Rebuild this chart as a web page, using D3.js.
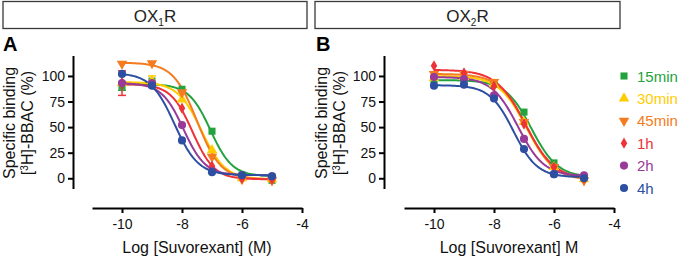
<!DOCTYPE html>
<html><head><meta charset="utf-8">
<script src="https://cdn.jsdelivr.net/npm/d3@7"></script>
<style>body{margin:0;background:#fff}svg{display:block;font-family:Arial,"Liberation Sans",sans-serif}</style>
</head><body><svg id="c" width="680" height="258"></svg>
<script>
const logConc = [-10, -9, -8, -7, -6, -5];
const seriesNames = ["15min", "30min", "45min", "1h", "2h", "4h"];
const seriesColors = ["#23a33d", "#ffcc00", "#f47b20", "#ee3338", "#983a98", "#2d4fa1"];
const seriesShapes = ["square", "triangle", "triangleDown", "diamond", "circle", "circle"];

// Panel A (OX1R) measured points
const ox1_15min = [90, 95, 87, 46, 3, -2];
const ox1_30min = [93, 95, 77, 27.5, 0, -1];
const ox1_45min = [112, 112.5, 84, 21, -1, -2];
const ox1_1h = [93, 92, 68.5, 12, 0, -1];
const ox1_2h = [93, 93, 52, 7, 3, 2];
const ox1_4h = [102, 90.5, 37, 6, 3, 2];
const ox1_err = [[4,0,0,0,0,0],[0,5,0,0,0,0],[0,0,0,0,0,0],[12,0,0,0,0,0],[0,0,0,0,0,0],[0,0,0,0,0,0]];
// fitted curve parameters [top, bottom, logIC50, hill]
const ox1_fits = [[92,2,-7.05,1.2],[94,-1,-7.35,1.1],[113,-1,-7.5,1.1],[92,-1,-7.65,1.2],[93,3,-7.95,1.2],[103,3,-8.25,1.1]];

// Panel B (OX2R) measured points
const ox2_15min = [96, 96, 92, 64.7, 15, 0];
const ox2_30min = [98, 99, 92, 55, 11, -1];
const ox2_45min = [102, 102, 94, 55, 11, -2];
const ox2_1h = [110, 103, 90, 53, 11, 0];
const ox2_2h = [99, 97, 81, 38.5, 4, 3];
const ox2_4h = [90.5, 91.5, 78, 28.5, 4, 0];
const ox2_fits = [[96,1,-6.75,1.0],[100,-1,-6.92,0.95],[102,-2,-6.9,0.95],[106,-1,-6.95,0.9],[99,2,-7.2,1.0],[91,1,-7.35,1.1]];

const xTicks = [-10, -8, -6, -4];
const yTicks = [0, 25, 50, 75, 100];

const svg = d3.select("#c");

const symbolFor = {
  square: d3.symbolSquare, triangle: d3.symbolTriangle, triangleDown: d3.symbolTriangle,
  diamond: d3.symbolDiamond, circle: d3.symbolCircle
};
const sizeFor = {square: 50, triangle: 48, triangleDown: 48, diamond: 36, circle: 52};

function drawPanel(opt) {
  const g = svg.append("g");
  // header box
  g.append("rect").attr("x", opt.box[0]).attr("y", 1.5).attr("width", opt.box[1]-opt.box[0]).attr("height", 27)
    .attr("fill", "#fff").attr("stroke", "#3a3a3a").attr("stroke-width", 1.3);
  const ht = g.append("text").attr("x", (opt.box[0]+opt.box[1])/2).attr("y", 21.5).attr("text-anchor", "middle")
    .attr("font-size", 17).attr("fill", "#222");
  ht.append("tspan").text("OX");
  ht.append("tspan").attr("font-size", 10).attr("dy", 4).text(opt.sub);
  ht.append("tspan").attr("dy", -4).text("R");
  // panel letter
  g.append("text").attr("x", opt.letterX).attr("y", 51).attr("font-size", 20).attr("font-weight", "bold").text(opt.letter);

  const x = d3.scaleLinear().domain([-11, -4]).range(opt.xr);
  const y = d3.scaleLinear().domain([-10, 120]).range([188.5, 55.5]);

  // y axis
  const ya = g.append("g").attr("transform", `translate(${opt.yAxisX},0)`)
    .call(d3.axisLeft(y).tickValues(yTicks).tickSize(5).tickPadding(3).tickSizeOuter(0));
  ya.select(".domain").attr("stroke", "#000").attr("stroke-width", 2);
  ya.selectAll(".tick line").attr("stroke", "#000").attr("stroke-width", 2);
  ya.selectAll(".tick text").attr("font-size", 14).attr("font-family", "Arial, Liberation Sans, sans-serif").attr("fill", "#111");

  // x axis
  const xa = g.append("g").attr("transform", "translate(0,208)")
    .call(d3.axisBottom(x).tickValues(xTicks).tickSize(5).tickPadding(6).tickSizeOuter(0).tickFormat(d => d < 0 ? "-" + Math.abs(d) : d));
  xa.select(".domain").attr("stroke", "#000").attr("stroke-width", 2);
  xa.selectAll(".tick line").attr("stroke", "#000").attr("stroke-width", 2);
  xa.selectAll(".tick text").attr("font-size", 14).attr("font-family", "Arial, Liberation Sans, sans-serif").attr("fill", "#111");

  // axis titles
  g.append("text").attr("x", (opt.xr[0]+opt.xr[1])/2).attr("y", 253).attr("text-anchor", "middle")
    .attr("font-size", 16).attr("fill", "#111").text(opt.xTitle);
  const cy = 123;
  g.append("text").attr("transform", `translate(${opt.yTitleX},${cy}) rotate(-90)`).attr("text-anchor", "middle")
    .attr("font-size", 16).attr("fill", "#111").text("Specific binding");
  const t2 = g.append("text").attr("transform", `translate(${opt.yTitleX+18},${cy}) rotate(-90)`).attr("text-anchor", "middle")
    .attr("font-size", 16).attr("fill", "#111");
  t2.append("tspan").text("[");
  t2.append("tspan").attr("font-size", 10).attr("dy", -5).text("3");
  t2.append("tspan").attr("dy", 5).text("H]-BBAC (%)");

  // curves
  const line = d3.line().x(d => x(d[0])).y(d => y(d[1])).curve(d3.curveLinear);
  const xs = d3.range(-10, -4.999, 0.05);
  opt.series.forEach((vals, i) => {
    const [top, bot, ic, h] = opt.fits[i];
    const pts = xs.map(v => [v, bot + (top - bot) / (1 + Math.pow(10, (v - ic) * h))]);
    g.append("path").attr("d", line(pts)).attr("fill", "none").attr("stroke", seriesColors[i]).attr("stroke-width", 2);
  });
  // error bars and markers
  opt.series.forEach((vals, i) => {
    const sg = g.append("g");
    if (opt.err) {
      vals.forEach((v, j) => {
        const e = opt.err[i][j];
        if (!e) return;
        sg.append("line").attr("x1", x(logConc[j])).attr("x2", x(logConc[j])).attr("y1", y(v - e)).attr("y2", y(v + e))
          .attr("stroke", seriesColors[i]).attr("stroke-width", 1.5);
        [v - e, v + e].forEach(b => sg.append("line").attr("x1", x(logConc[j]) - 4).attr("x2", x(logConc[j]) + 4)
          .attr("y1", y(b)).attr("y2", y(b)).attr("stroke", seriesColors[i]).attr("stroke-width", 1.5));
      });
    }
    const shp = seriesShapes[i];
    const sym = d3.symbol().type(symbolFor[shp]).size(sizeFor[shp]);
    vals.forEach((v, j) => {
      sg.append("path").attr("d", sym())
        .attr("transform", `translate(${x(logConc[j])},${y(v)})` + (shp === "triangleDown" ? " rotate(180)" : ""))
        .attr("fill", seriesColors[i]);
    });
  });
}

drawPanel({box: [3, 307], sub: "1", letter: "A", letterX: 3, xr: [92, 302], yAxisX: 73, yTitleX: 15,
  xTitle: "Log [Suvorexant] (M)", series: [ox1_15min, ox1_30min, ox1_45min, ox1_1h, ox1_2h, ox1_4h], fits: ox1_fits, err: ox1_err});
drawPanel({box: [315, 620], sub: "2", letter: "B", letterX: 316, xr: [404, 614], yAxisX: 384, yTitleX: 327,
  xTitle: "Log [Suvorexant] M", series: [ox2_15min, ox2_30min, ox2_45min, ox2_1h, ox2_2h, ox2_4h], fits: ox2_fits, err: null});

// legend
const lg = svg.append("g");
seriesNames.forEach((n, i) => {
  const yy = 76 + i * 22.4;
  const shp = seriesShapes[i];
  const sym = d3.symbol().type(symbolFor[shp]).size(sizeFor[shp]);
  lg.append("path").attr("d", sym()).attr("transform", `translate(624,${yy})` + (shp === "triangleDown" ? " rotate(180)" : ""))
    .attr("fill", seriesColors[i]);
  lg.append("text").attr("x", 637).attr("y", yy + 5.5).attr("font-size", 15).attr("fill", seriesColors[i]).text(n);
});
</script></body></html>
